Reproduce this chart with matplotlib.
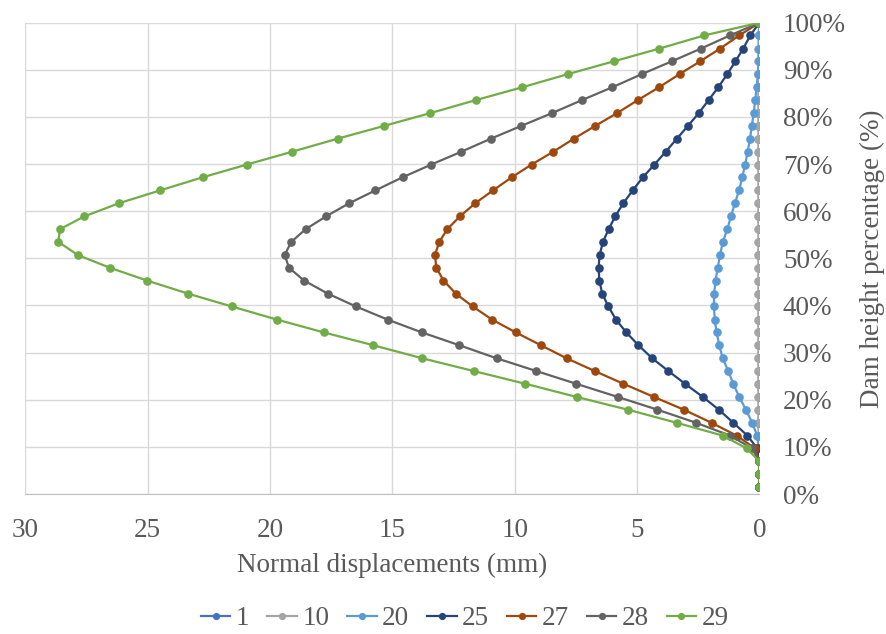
import matplotlib
matplotlib.use('Agg')
import matplotlib.pyplot as plt
from matplotlib.ticker import FuncFormatter

# dam height levels (%), top to bottom
heights = [100.0, 97.3, 94.5, 91.8, 89.1, 86.3, 83.6, 80.8, 78.1, 75.4,
           72.6, 69.9, 67.2, 64.4, 61.7, 58.9, 56.2, 53.5, 50.7, 48.0,
           45.3, 42.5, 39.8, 37.0, 34.3, 31.6, 28.8, 26.1, 23.4, 20.6,
           17.9, 15.1, 12.4, 9.7, 6.9, 4.2, 1.5]

# normal displacements (mm) per load step
d1 = [0, 0, 0, 0, 0, 0, 0, 0, 0, 0,
      0, 0, 0, 0, 0, 0, 0, 0, 0, 0,
      0, 0, 0, 0, 0, 0, 0, 0, 0, 0,
      0, 0, 0, 0, 0, 0, 0]
d10 = [0, 0.03, 0.04, 0.04, 0.04, 0.04, 0.04, 0.04, 0.04, 0.04,
       0.04, 0.04, 0.04, 0.04, 0.04, 0.04, 0.04, 0.04, 0.04, 0.04,
       0.04, 0.04, 0.04, 0.04, 0.04, 0.04, 0.04, 0.04, 0.04, 0.04,
       0.04, 0.04, 0.03, 0.01, 0, 0, 0]
d20 = [0, 0.0, 0.0, 0.03, 0.06, 0.11, 0.17, 0.23, 0.31, 0.38,
       0.48, 0.58, 0.70, 0.83, 1.0, 1.16, 1.31, 1.49, 1.61, 1.70,
       1.79, 1.85, 1.86, 1.82, 1.75, 1.64, 1.50, 1.27, 1.07, 0.82,
       0.55, 0.29, 0.09, 0.02, 0, 0, 0]
d25 = [0, 0.37, 0.66, 0.98, 1.31, 1.68, 2.07, 2.48, 2.92, 3.37,
       3.83, 4.29, 4.76, 5.18, 5.56, 5.89, 6.16, 6.39, 6.53, 6.57,
       6.54, 6.42, 6.17, 5.86, 5.44, 4.95, 4.38, 3.72, 3.04, 2.31,
       1.66, 1.06, 0.49, 0.09, 0, 0, 0]
d27 = [0, 0.82, 1.61, 2.42, 3.26, 4.10, 4.96, 5.82, 6.71, 7.58,
       8.43, 9.31, 10.12, 10.89, 11.61, 12.24, 12.75, 13.08, 13.26, 13.20,
       12.91, 12.40, 11.72, 10.92, 9.96, 8.94, 7.88, 6.73, 5.56, 4.31,
       3.09, 1.95, 0.93, 0.18, 0, 0, 0]
d28 = [0, 1.20, 2.39, 3.58, 4.80, 6.01, 7.24, 8.48, 9.73, 10.97,
       12.19, 13.41, 14.58, 15.70, 16.76, 17.71, 18.54, 19.13, 19.40, 19.22,
       18.61, 17.63, 16.49, 15.19, 13.80, 12.28, 10.74, 9.12, 7.49, 5.79,
       4.17, 2.58, 1.20, 0.30, 0, 0, 0]
d29 = [0, 2.25, 4.09, 5.95, 7.82, 9.69, 11.57, 13.46, 15.34, 17.23,
       19.11, 20.95, 22.75, 24.50, 26.17, 27.59, 28.58, 28.65, 27.85, 26.54,
       25.03, 23.34, 21.57, 19.71, 17.81, 15.80, 13.78, 11.68, 9.57, 7.47,
       5.38, 3.37, 1.50, 0.52, 0, 0, 0]

labels = ['1', '10', '20', '25', '27', '28', '29']
series = [d1, d10, d20, d25, d27, d28, d29]
colors = ['#4472C4', '#A5A5A5', '#5B9BD5', '#264478', '#9E480E', '#636363', '#70AD47']

plt.rcParams['font.family'] = ['Liberation Serif', 'DejaVu Serif']
txt = '#595959'

fig = plt.figure(figsize=(8.87, 6.34), dpi=100)
ax = fig.add_axes([0.0285, 0.2208, 0.8276, 0.7434])

for d, lab, c in zip(series, labels, colors):
    ax.plot(d, heights, color=c, lw=1.6, marker='o', ms=5.2, label=lab)

ax.set_xlim(30, 0)
ax.set_ylim(0, 100)
ax.set_xticks([30, 25, 20, 15, 10, 5, 0])
ax.set_yticks(range(0, 101, 10))
ax.yaxis.set_major_formatter(FuncFormatter(lambda v, p: '%d%%' % v))
ax.yaxis.tick_right()
ax.grid(True, color='#D9D9D9', lw=1)
ax.set_axisbelow(True)
for s in ['top', 'right', 'left']:
    ax.spines[s].set_visible(False)
ax.spines['bottom'].set_color('#BFBFBF')
ax.tick_params(length=0, labelsize=19.5, labelcolor=txt)
ax.tick_params(axis='x', pad=17)
ax.tick_params(axis='y', pad=17)

ax.set_xlabel('Normal displacements (mm)', fontsize=19.5, color=txt)
ax.xaxis.set_label_coords(0.4995, -0.125)
ax.yaxis.set_label_position('right')
ax.set_ylabel('Dam height percentage (%)', fontsize=19.5, color=txt)
ax.yaxis.set_label_coords(1.137, 0.5)

fig.legend(loc='center', bbox_to_anchor=(0.524, 0.024), ncol=7, frameon=False,
           fontsize=19.5, labelcolor=txt, handlelength=1.1, handletextpad=0.2,
           columnspacing=0.65, markerscale=0.8)

fig.savefig('out.png', dpi=100)
